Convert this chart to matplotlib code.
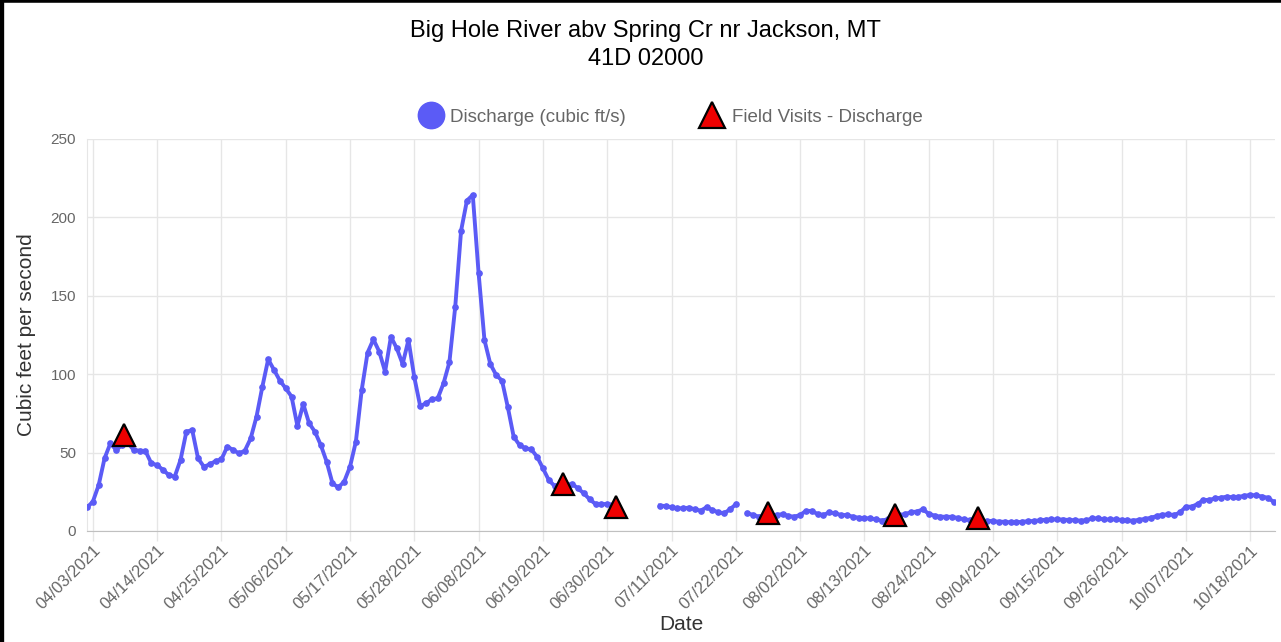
import pandas as pd
import matplotlib
matplotlib.use("Agg")
from matplotlib import pyplot as plt
import matplotlib.dates as mdates
from matplotlib.lines import Line2D

plt.rcParams['font.family'] = ['Liberation Sans', 'DejaVu Sans']

# daily discharge (cfs), three runs separated by missing days
start1 = '2021-04-02'
flow1 = [15, 18.7, 29.3, 46.3, 55.9, 51.7, 54.8, 56, 51.7, 51.2,
         51, 43.2, 42, 39, 35.7, 34.6, 45.3, 63.3, 64.4, 46.3,
         41, 42.5, 44.6, 45.7, 53.8, 51.7, 49.5, 51.2, 59,
         72.9, 92, 109.5, 102.7, 95.9, 91, 85.7, 67, 81, 68.7,
         63.3, 54.8, 44.2, 30.4, 27.8, 31.5, 41, 57, 90, 113.7,
         122.2, 114.4, 101.6, 123.9, 116.5, 106.5, 121.8, 98, 79.7, 81.4, 84,
         84.6, 94.2, 107.6, 143, 191.5, 210.7, 214.3, 164.3, 121.8, 106.5,
         99.5, 95.9, 78.9, 60.1, 54.8, 52.7, 52.1, 47.4, 40, 32.5,
         28.7, 29.3, 29.5, 30, 27.2, 24, 20.2, 17.2, 17.2, 17.2,
         16.8]

start2 = '2021-07-09'
flow2 = [16.2, 15.9, 15.1, 14.5, 14.5, 14.9, 13.8, 13.0, 15.1, 13.4,
         11.9, 11.3, 13.8, 17.0]

start3 = '2021-07-24'
flow3 = [11.3, 10.2, 9.1, 9.6, 10.2, 10.2, 10.8, 9.6, 9.1, 10.2,
         12.8, 12.8, 10.8, 10.2, 11.9, 11.3, 10.2, 10.2, 9.1, 8.5,
         8.1, 8.1, 7.4, 6.6, 7.5, 9.0, 10.2, 10.8, 12.0, 12.4,
         13.8, 11.0, 9.8, 9.1, 9.1, 9.0, 8.3, 7.5, 7.0, 6.8,
         6.5, 6.4, 6.4, 5.9, 5.9, 5.5, 5.5, 5.9, 6.2, 6.4,
         6.8, 7.2, 7.4, 7.4, 7.3, 7.0, 6.9, 6.6, 6.8, 8.1,
         8.1, 7.4, 7.4, 7.4, 7.1, 6.7, 6.6, 7.1, 7.7, 8.4,
         9.5, 10.4, 10.6, 10.2, 11.8, 15.5, 15.5, 17.2, 19.8, 19.8,
         20.8, 21.2, 21.9, 21.5, 21.8, 22.4, 23.0, 22.7, 22.0, 21.2,
         18.7]

# field visit measurements
visit_dates = ['2021-04-08 09:00', '2021-06-22 11:00', '2021-07-01 11:00',
               '2021-07-27 13:00', '2021-08-18 06:00', '2021-09-01 12:00']
visit_flow = [61.5, 29.7, 15.0, 11.5, 10.5, 8.4]

tick_start = '2021-04-03'
n_ticks = 19

blue = '#5b5bf6'
grey_txt = '#666666'

fig = plt.figure(figsize=(12.81, 6.42), dpi=100)
ax = fig.add_axes([87 / 1281, 1 - 531 / 642, 1188 / 1281, 392 / 642])

for start, flow in [(start1, flow1), (start2, flow2), (start3, flow3)]:
    dates = pd.date_range(start, periods=len(flow), freq='D')
    ax.plot(dates, flow, color=blue, lw=2.8, marker='o', ms=3.8, zorder=3)

ax.plot(pd.to_datetime(visit_dates), visit_flow, ls='none', marker='^', ms=15.5,
        mfc='#ee0000', mec='black', mew=1.6, zorder=4, clip_on=False)

ax.set_xlim(pd.Timestamp('2021-04-02'), pd.Timestamp('2021-10-22 06:00'))
ax.set_ylim(0, 250)
ax.set_yticks(range(0, 251, 50))
ax.set_xticks(pd.date_range(tick_start, periods=n_ticks, freq='11D'))
ax.xaxis.set_major_formatter(mdates.DateFormatter('%m/%d/%Y'))
plt.setp(ax.get_xticklabels(), rotation=45, ha='right', rotation_mode='anchor')

ax.grid(color='#e6e6e6', lw=1)
ax.set_axisbelow(True)
for s in ['top', 'right']:
    ax.spines[s].set_visible(False)
ax.spines['left'].set_color('#e6e6e6')
ax.spines['bottom'].set_color('#c0c0c0')
ax.tick_params(axis='y', length=0, pad=8, labelsize=11, labelcolor=grey_txt)
ax.tick_params(axis='x', length=7, width=1, color='#e6e6e6', pad=1,
               labelsize=12, labelcolor=grey_txt)

ax.set_ylabel('Cubic feet per second', fontsize=15, color='#333333')
ax.yaxis.set_label_coords(-0.043, 0.5)
ax.set_xlabel('Date', fontsize=15, color='#333333', va='center')
ax.xaxis.set_label_coords(0.5, -0.239)

fig.text(0.504, 1 - 31 / 642, 'Big Hole River abv Spring Cr nr Jackson, MT',
         ha='center', va='center', fontsize=17)
fig.text(0.504, 1 - 59 / 642, '41D 02000', ha='center', va='center', fontsize=17)

handles = [Line2D([], [], ls='none', marker='o', ms=19, color=blue),
           Line2D([], [], ls='none', marker='^', ms=19, mfc='#ee0000',
                  mec='black', mew=1.6)]
ax.legend(handles, ['Discharge (cubic ft/s)', 'Field Visits - Discharge'],
          loc='center', bbox_to_anchor=(0.491, 1.056), ncol=2, frameon=False,
          fontsize=13.5, labelcolor=grey_txt, handletextpad=0.35,
          columnspacing=3.9, handlelength=1.4)

# black frame on top and left edge of the screenshot
fig.add_artist(Line2D([0, 1], [1, 1], transform=fig.transFigure, color='black', lw=4))
fig.add_artist(Line2D([0, 0], [0, 1], transform=fig.transFigure, color='black', lw=6))

fig.savefig('out.png', dpi=100)
